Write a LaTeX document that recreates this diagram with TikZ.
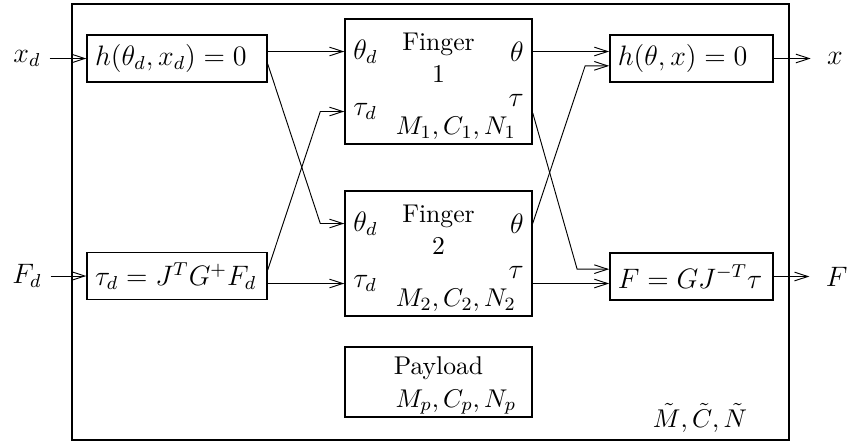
\documentclass[11pt,tikz,border=0pt]{standalone}
\usetikzlibrary{arrows.meta, calc, positioning}

\begin{document}
\begin{tikzpicture}[
    box/.style={draw, semithick, minimum height=0.7cm, inner xsep=0.12cm,
                align=left, font=\large},
    fbox/.style={draw, semithick, minimum width=2.805cm},
    port/.style={font=\large},
    arr/.style={-{Straight Barb[length=2mm,width=1.3mm]}, thin},
    outl/.style={inner xsep=0.24cm, font=\large}
  ]
  \useasboundingbox (0,0) rectangle (12.75,-6.63);
  \draw[semithick] (1.08,-0.06) rectangle (11.835,-6.6);

  % Eingang
  \node[port] (xd) at (0.405,-0.8775) {$x_d$};
  \node[port] (Fd) at (0.405,-4.14) {$F_d$};
  \node[box, text width=2.46cm] (hd)   at (2.655,-0.8775) {$h(\theta_d,x_d)=0$};
  \node[box, text width=2.46cm] (taud) at (2.655,-4.14)   {$\tau_d=J^TG^{+}F_d$};

  % Finger und Payload
  \node[fbox, minimum height=1.875cm] (fing1) at (6.5775,-1.2225) {};
  \node[fbox, minimum height=1.875cm] (fing2) at (6.5775,-3.8025) {};
  \node[fbox, minimum height=1.05cm]  (load)  at (6.5775,-5.73)   {};

  \coordinate (f1i) at ($(fing1.west)+(0,0.45)$);
  \coordinate (f1j) at ($(fing1.west)+(0,-0.45)$);
  \coordinate (f1o) at ($(fing1.east)+(0,0.45)$);
  \coordinate (f1p) at ($(fing1.east)+(0,-0.47)$);
  \coordinate (f2i) at ($(fing2.west)+(0,0.45)$);
  \coordinate (f2j) at ($(fing2.west)+(0,-0.45)$);
  \coordinate (f2o) at ($(fing2.east)+(0,0.45)$);
  \coordinate (f2p) at ($(fing2.east)+(0,-0.45)$);

  \node[port, anchor=west] (th1)  at (f1i) {$\theta_d$};
  \node[port, anchor=west] (ta1)  at (f1j) {$\tau_d$};
  \node[port, anchor=east] (tho1) at (f1o) {$\theta$};
  \node[port, anchor=east] (tao1) at ($(fing1.east)+(0,-0.28)$) {$\tau$};
  \node[align=center] (nm1) at ($(fing1.center)+(0,0.35)$) {Finger\\1};
  \node (mcn1) at ($(fing1.center)+(0.26,-0.7)$) {$M_1,C_1,N_1$};

  \node[port, anchor=west] (th2)  at (f2i) {$\theta_d$};
  \node[port, anchor=west] (ta2)  at (f2j) {$\tau_d$};
  \node[port, anchor=east] (tho2) at (f2o) {$\theta$};
  \node[port, anchor=east] (tao2) at ($(fing2.east)+(0,-0.28)$) {$\tau$};
  \node[align=center] (nm2) at ($(fing2.center)+(0,0.35)$) {Finger\\2};
  \node (mcn2) at ($(fing2.center)+(0.26,-0.7)$) {$M_2,C_2,N_2$};

  \node (nmp)  at ($(load.center)+(0,0.2)$)      {Payload};
  \node (mcnp) at ($(load.center)+(0.26,-0.3)$)  {$M_p,C_p,N_p$};

  % Ausgang
  \node[box, text width=2.21cm] (h) at (10.3725,-0.8775) {$h(\theta,x)=0$};
  \node[box, text width=2.21cm] (F) at (10.3725,-4.1475) {$F=GJ^{-T}\tau$};
  \node[outl] (xo) at (12.525,-0.8775) {$x$};
  \node[outl] (Fo) at (12.55,-4.1475)  {$F$};
  \node (mct) at (10.5,-6.27) {$\tilde M,\tilde C,\tilde N$};

  \draw[arr] (xd) -- (hd);
  \draw[arr] (Fd) -- (taud);
  \draw[arr] (hd.east |- f1i) -- (f1i);
  \draw[arr] (taud.east |- f2j) -- (f2j);
  \draw[arr] ($(hd.east)+(0,-0.08)$) -- ($(f2i)+(-0.36,0)$) -- (f2i);
  \draw[arr] ($(taud.east)+(0,0.09)$) -- ($(f1j)+(-0.36,0)$) -- (f1j);

  \draw[arr] (f1o) -- (h.west |- f1o);
  \draw[arr] (f2p) -- (F.west |- f2p);
  \draw[arr] (f1p) -- ($(F.west)+(-0.48,0.11)$) -- ($(F.west)+(0,0.11)$);
  \draw[arr] (f2o) -- ($(h.west)+(-0.36,-0.11)$) -- ($(h.west)+(0,-0.11)$);
  \draw[arr] (h) -- (xo);
  \draw[arr] (F) -- (Fo);
\end{tikzpicture}
\end{document}
